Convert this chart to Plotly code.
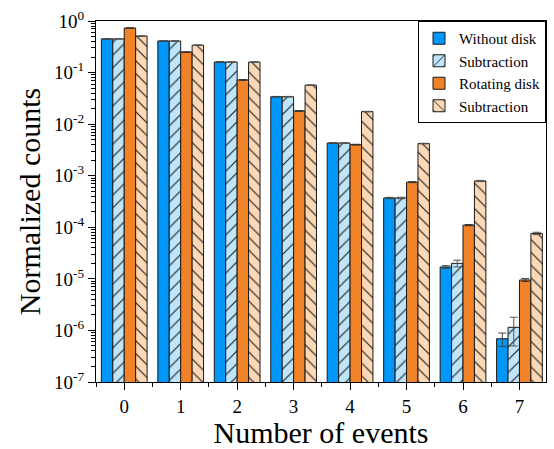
import plotly.graph_objects as go

# Number of events per group
events = [0, 1, 2, 3, 4, 5, 6, 7]

# Normalized counts for each data set
without_disk = [0.45, 0.41, 0.16, 0.034, 0.0043, 3.7e-4, 1.7e-5, 6.9e-7]
without_disk_err = [0.004, 0.004, 0.002, 5e-4, 8e-5, 1e-5, 1e-6, 2e-7]
without_sub = [0.45, 0.41, 0.16, 0.034, 0.0043, 3.7e-4, 2.0e-5, 1.15e-6]
without_sub_err = [0.004, 0.004, 0.002, 5e-4, 8e-5, 1.2e-5, 3e-6, 6.5e-7]
rotating_disk = [0.73, 0.25, 0.072, 0.018, 0.0040, 7.5e-4, 1.1e-4, 9.5e-6]
rotating_disk_err = [0.006, 0.003, 0.001, 3e-4, 7e-5, 1.5e-5, 3e-6, 6e-7]
rotating_sub = [0.51, 0.34, 0.16, 0.057, 0.0175, 4.2e-3, 7.9e-4, 7.6e-5]
rotating_sub_err = [0.005, 0.004, 0.002, 8e-4, 2e-4, 6e-5, 2e-5, 4e-6]

y_tickvals = [1e0, 1e-1, 1e-2, 1e-3, 1e-4, 1e-5, 1e-6, 1e-7]
y_ticktext = ["10<sup>0</sup>", "10<sup>-1</sup>", "10<sup>-2</sup>", "10<sup>-3</sup>",
              "10<sup>-4</sup>", "10<sup>-5</sup>", "10<sup>-6</sup>", "10<sup>-7</sup>"]

FONT = "Liberation Serif, Times New Roman, serif"
outline = dict(color="#1a1a1a", width=1)

fig = go.Figure()

fig.add_trace(go.Bar(
    x=events, y=without_disk, name="Without disk",
    marker=dict(color="#0097FB", line=outline),
    error_y=dict(type="data", array=without_disk_err, color="#444444", thickness=1, width=4),
))
fig.add_trace(go.Bar(
    x=events, y=without_sub, name="Subtraction",
    marker=dict(color="#BEE5FA", line=outline,
                pattern=dict(shape="/", fgcolor="#1a1a1a", bgcolor="#BEE5FA",
                             size=9, solidity=0.12, fillmode="replace")),
    error_y=dict(type="data", array=without_sub_err, color="#555555", thickness=1, width=4),
))
fig.add_trace(go.Bar(
    x=events, y=rotating_disk, name="Rotating disk",
    marker=dict(color="#F08228", line=outline),
    error_y=dict(type="data", array=rotating_disk_err, color="#333333", thickness=1, width=4),
))
fig.add_trace(go.Bar(
    x=events, y=rotating_sub, name="Subtraction",
    marker=dict(color="#FDD8B6", line=outline,
                pattern=dict(shape="\\", fgcolor="#1a1a1a", bgcolor="#FDD8B6",
                             size=9, solidity=0.12, fillmode="replace")),
    error_y=dict(type="data", array=rotating_sub_err, color="#555555", thickness=1, width=4),
))

fig.update_layout(
    width=554, height=449,
    margin=dict(l=96, r=7, t=21, b=64),
    paper_bgcolor="white", plot_bgcolor="white",
    barmode="group", bargap=0.19, bargroupgap=0,
    font=dict(family=FONT, size=18, color="black"),
    showlegend=True,
    legend=dict(
        x=1, y=1, xanchor="right", yanchor="top",
        bordercolor="black", borderwidth=1, bgcolor="white",
        font=dict(family=FONT, size=15),
        tracegroupgap=0, itemwidth=30,
    ),
    xaxis=dict(
        range=[-0.5, 7.47],
        tickmode="array", tickvals=events, ticktext=[str(e) for e in events],
        ticks="outside", ticklen=7, tickwidth=1, tickcolor="black",
        showline=True, linecolor="black", linewidth=1, mirror=True,
        showgrid=False, zeroline=False,
        minor=dict(ticks="outside", ticklen=4, tickcolor="black",
                   tickmode="array", tickvals=[e + 0.5 for e in events[:-1]] + [-0.5]),
        title=dict(text="Number of events", font=dict(family=FONT, size=30), standoff=4),
        tickfont=dict(family=FONT, size=19),
    ),
    yaxis=dict(
        type="log", range=[-7, 0],
        tickmode="array", tickvals=y_tickvals, ticktext=y_ticktext,
        ticks="outside", ticklen=7, tickwidth=1, tickcolor="black",
        showline=True, linecolor="black", linewidth=1, mirror=True,
        showgrid=False, zeroline=False,
        minor=dict(ticks="outside", ticklen=4, tickcolor="black", dtick="D1"),
        title=dict(text="Normalized counts", font=dict(family=FONT, size=30), standoff=4),
        tickfont=dict(family=FONT, size=19),
    ),
)

fig.write_html("out.html")
